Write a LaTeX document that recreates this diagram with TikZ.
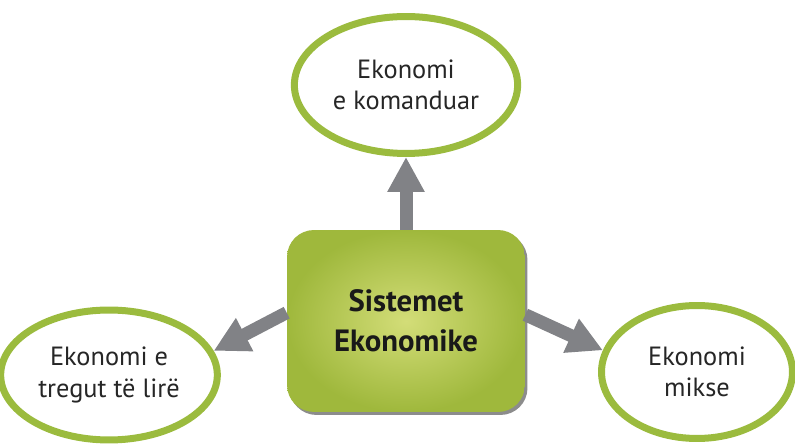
\documentclass[tikz,border=0pt]{standalone}
\usepackage{fontspec}
\setmainfont{PT Sans}
\usetikzlibrary{arrows.meta}
\usetikzlibrary{shadows}
\usetikzlibrary{shapes.geometric}
\definecolor{leafgreen}{HTML}{9BBB3E}
\definecolor{limelight}{HTML}{D3DD78}
\definecolor{limedark}{HTML}{9FB83C}
\definecolor{arrowgray}{HTML}{818286}
\newcommand{\ringwidth}{0.14cm}

\begin{document}
\begin{tikzpicture}[x=0.02cm,y=-0.02cm]
            \useasboundingbox (0,0) rectangle (795,445);
            \begin{scope}[every node/.style={ellipse,draw=leafgreen,line width=\ringwidth,fill=white,
                    align=center,font=\fontsize{15}{18}\selectfont,text=black!85}]
                \node[minimum width=3.66cm,minimum height=2.74cm] (cmd) at (406,85) {Ekonomi\\e komanduar};
                \node[minimum width=3.9cm,minimum height=2.6cm] (free) at (109,375) {Ekonomi e\\tregut të lirë};
                \node[minimum width=3.82cm,minimum height=2.66cm] (mix) at (697,372) {Ekonomi\\mikse};
            \end{scope}

            \node[rounded corners=0.54cm,minimum width=4.76cm,minimum height=3.64cm,
                inner color=limelight,outer color=limedark,
                drop shadow={shadow xshift=0.05cm,shadow yshift=-0.06cm,fill=black!45,opacity=1},
                align=center,font=\fontsize{17.5}{23}\selectfont\bfseries,text=black!90]
                (sys) at (406,321) {Sistemet\\Ekonomike};

            \begin{scope}[>={Triangle[length=0.7cm,width=0.7cm]},
                every edge/.style={draw=arrowgray,line width=0.26cm}]
                \path [->] (sys.north) edge (cmd.south);
                \path [->] (sys.176) edge (free.13);
                \path [->] (sys.3) edge (mix.167);
            \end{scope}
            \end{tikzpicture}
\end{document}
